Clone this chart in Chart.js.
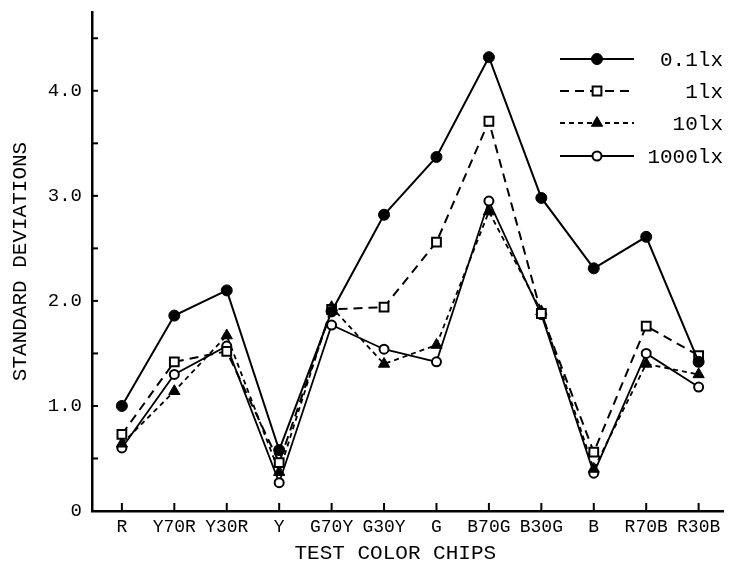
<!DOCTYPE html>
<html>
<head>
<meta charset="utf-8">
<script src="https://cdn.jsdelivr.net/npm/chart.js@4"></script>
<style>
  html, body { margin: 0; padding: 0; background: #fff; }
  canvas { display: block; }
</style>
</head>
<body>
<canvas id="sdChart" width="732" height="567"></canvas>
<script>
// values
const categories = ['R', 'Y70R', 'Y30R', 'Y', 'G70Y', 'G30Y', 'G', 'B70G', 'B30G', 'B', 'R70B', 'R30B'];
const lux01   = [1.00, 1.86, 2.10, 0.58, 1.90, 2.82, 3.37, 4.32, 2.98, 2.31, 2.61, 1.42];
const lux1    = [0.73, 1.42, 1.52, 0.46, 1.92, 1.94, 2.56, 3.71, 1.88, 0.56, 1.76, 1.48];
const lux10   = [0.64, 1.14, 1.67, 0.37, 1.94, 1.40, 1.58, 2.85, 1.90, 0.40, 1.40, 1.30];
const lux1000 = [0.60, 1.30, 1.57, 0.27, 1.77, 1.54, 1.42, 2.95, 1.87, 0.36, 1.50, 1.18];
const seriesLabels = ['0.1lx', '1lx', '10lx', '1000lx'];
const yTickLabels = ['0', '1.0', '2.0', '3.0', '4.0'];

const FONT = "'Liberation Mono', 'Courier New', monospace";

function toPoints(values) {
    return values.map((v, i) => ({ x: i, y: v }));
}

// tick marks point inward, and the legend is line-marker-line with right-aligned text
const figureExtras = {
    id: 'figureExtras',
    afterDraw(chart) {
        const { ctx, chartArea, scales } = chart;
        const x = scales.x, y = scales.y;
        ctx.save();
        ctx.strokeStyle = '#000';
        ctx.lineWidth = 2;
        y.ticks.forEach(t => {
            if (t.value === 0) return;
            const py = y.getPixelForValue(t.value);
            ctx.beginPath();
            ctx.moveTo(chartArea.left, py);
            ctx.lineTo(chartArea.left + 6, py);
            ctx.stroke();
        });
        x.ticks.forEach(t => {
            const px = x.getPixelForValue(t.value);
            ctx.beginPath();
            ctx.moveTo(px, chartArea.bottom);
            ctx.lineTo(px, chartArea.bottom - 8);
            ctx.stroke();
        });

        const rows = [59, 91, 123, 156];
        chart.data.datasets.forEach((ds, i) => {
            const ry = rows[i];
            ctx.save();
            ctx.strokeStyle = '#000';
            ctx.lineWidth = ds.borderWidth;
            ctx.setLineDash(ds.borderDash || []);
            ctx.beginPath();
            ctx.moveTo(560, ry);
            ctx.lineTo(634, ry);
            ctx.stroke();
            ctx.setLineDash([]);
            ctx.fillStyle = ds.pointBackgroundColor;
            ctx.strokeStyle = '#000';
            ctx.lineWidth = ds.pointBorderWidth;
            Chart.helpers.drawPoint(ctx, {
                pointStyle: ds.pointStyle,
                radius: ds.pointRadius,
                rotation: 0,
                borderWidth: ds.pointBorderWidth
            }, 597, ry);
            ctx.restore();
            ctx.fillStyle = '#000';
            ctx.font = '21px ' + FONT;
            ctx.textAlign = 'right';
            ctx.textBaseline = 'middle';
            ctx.fillText(ds.label, 723, ry + 1);
        });
        ctx.restore();
    }
};

function createChart() {
    const ctx = document.getElementById('sdChart');
    new Chart(ctx, {
        type: 'line',
        data: {
            datasets: [
                {
                    label: seriesLabels[0],
                    data: toPoints(lux01),
                    borderColor: '#000',
                    borderWidth: 2,
                    pointStyle: 'circle',
                    pointRadius: 5.5,
                    pointBackgroundColor: '#000',
                    pointBorderColor: '#000',
                    pointBorderWidth: 1
                },
                {
                    label: seriesLabels[1],
                    data: toPoints(lux1),
                    borderColor: '#000',
                    borderWidth: 2,
                    borderDash: [9, 6],
                    pointStyle: 'rect',
                    pointRadius: 6.2,
                    pointBackgroundColor: '#fff',
                    pointBorderColor: '#000',
                    pointBorderWidth: 2
                },
                {
                    label: seriesLabels[2],
                    data: toPoints(lux10),
                    borderColor: '#000',
                    borderWidth: 1.8,
                    borderDash: [5, 4],
                    pointStyle: 'triangle',
                    pointRadius: 6.5,
                    pointBackgroundColor: '#000',
                    pointBorderColor: '#000',
                    pointBorderWidth: 1
                },
                {
                    label: seriesLabels[3],
                    data: toPoints(lux1000),
                    borderColor: '#000',
                    borderWidth: 1.8,
                    pointStyle: 'circle',
                    pointRadius: 4.5,
                    pointBackgroundColor: '#fff',
                    pointBorderColor: '#000',
                    pointBorderWidth: 2
                }
            ]
        },
        options: {
            responsive: false,
            animation: false,
            layout: { padding: { top: 12, right: 0, left: 0, bottom: 0 } },
            plugins: {
                legend: { display: false },
                tooltip: { enabled: false }
            },
            elements: { line: { tension: 0, fill: false } },
            scales: {
                x: {
                    type: 'linear',
                    min: -0.57,
                    max: 11.48,
                    afterBuildTicks: scale => {
                        scale.ticks = scale.ticks.filter(t => Number.isInteger(t.value) && t.value >= 0 && t.value < categories.length);
                    },
                    afterFit: scale => {
                        scale.height = 56;
                        scale.paddingLeft = 0;
                        scale.paddingRight = 0;
                    },
                    ticks: {
                        stepSize: 1,
                        includeBounds: false,
                        autoSkip: false,
                        maxRotation: 0,
                        padding: 5,
                        color: '#000',
                        font: { family: FONT, size: 18 },
                        callback: v => categories[v]
                    },
                    grid: { drawOnChartArea: false, drawTicks: false },
                    border: { color: '#000', width: 2.5 },
                    title: {
                        display: true,
                        text: 'TEST COLOR CHIPS  ',
                        color: '#000',
                        font: { family: FONT, size: 21 },
                        padding: { top: 0, bottom: 1 }
                    }
                },
                y: {
                    min: 0,
                    max: 4.75,
                    afterBuildTicks: scale => {
                        scale.ticks = scale.ticks.filter(t => t.value <= 4.5 && Math.abs(t.value * 2 - Math.round(t.value * 2)) < 1e-6);
                    },
                    afterFit: scale => {
                        scale.width = 92;
                        scale.paddingTop = 0;
                        scale.paddingBottom = 0;
                    },
                    ticks: {
                        stepSize: 0.5,
                        includeBounds: false,
                        padding: 10,
                        color: '#000',
                        font: { family: FONT, size: 19 },
                        callback: v => Number.isInteger(v) ? yTickLabels[v] : ''
                    },
                    grid: { drawOnChartArea: false, drawTicks: false },
                    border: { color: '#000', width: 2.5 },
                    title: {
                        display: true,
                        text: 'STANDARD DEVIATIONS',
                        color: '#000',
                        font: { family: FONT, size: 21 },
                        padding: { top: 8, bottom: 0 }
                    }
                }
            }
        },
        plugins: [figureExtras]
    });
}

document.addEventListener('DOMContentLoaded', createChart);
</script>
</body>
</html>
